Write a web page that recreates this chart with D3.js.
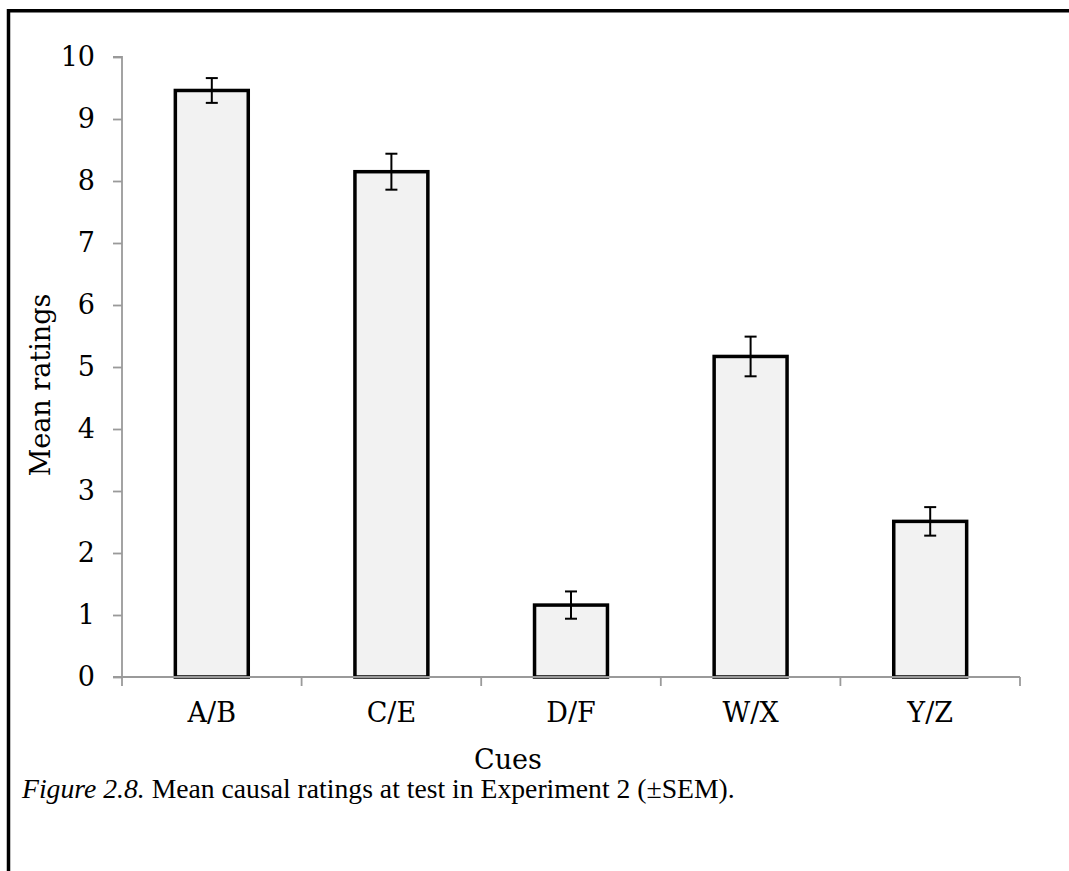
<!DOCTYPE html>
<html>
<head>
<meta charset="utf-8">
<script src="https://cdn.jsdelivr.net/npm/d3@7"></script>
<style>
	body { margin: 0; background: white; }
	svg { display: block; }
</style>
</head>
<body>
<script>

//****************************************************************************************************************************//
// Data

var cues = ["A/B", "C/E", "D/F", "W/X", "Y/Z"];
var meanRatings = [9.46, 8.15, 1.16, 5.17, 2.51];
var semRatings = [0.20, 0.29, 0.22, 0.32, 0.23];
var yTicks = [0, 1, 2, 3, 4, 5, 6, 7, 8, 9, 10];

//****************************************************************************************************************************//
// Canvas

var width = 1069, height = 871;
var plot = { left : 122, right : 1020, top : 57, bottom : 677 };
var serif = "'DejaVu Serif', serif";

var canvas = d3.select("body").append("svg")
				.attr("width", width)
				.attr("height", height);

canvas.append("path")
		.attr("d", "M8.5," + height + "V10.8H" + width)
		.attr("fill", "none")
		.attr("stroke", "black")
		.attr("stroke-width", 3.5);

var x = d3.scaleBand()
			.domain(cues)
			.range([plot.left, plot.right])
			.paddingInner(0.594)
			.paddingOuter(0.297);

var y = d3.scaleLinear()
			.domain([0, 10])
			.range([plot.bottom, plot.top]);

//****************************************************************************************************************************//
// Bars and error bars

var rows = cues.map(function(c, i){ return { cue : c, mean : meanRatings[i], sem : semRatings[i] }; });

canvas.selectAll(".bar")
		.data(rows)
		.enter().append("rect")
		.attr("class", "bar")
		.attr("x", function(d){ return x(d.cue); })
		.attr("y", function(d){ return y(d.mean); })
		.attr("width", x.bandwidth())
		.attr("height", function(d){ return y(0) - y(d.mean); })
		.attr("fill", "#f2f2f2")
		.attr("stroke", "black")
		.attr("stroke-width", 3.5);

var err = canvas.selectAll(".err")
				.data(rows)
				.enter().append("g")
				.attr("class", "err")
				.attr("stroke", "black")
				.attr("stroke-width", 2);

err.append("line")
	.attr("x1", function(d){ return x(d.cue) + x.bandwidth()/2; })
	.attr("x2", function(d){ return x(d.cue) + x.bandwidth()/2; })
	.attr("y1", function(d){ return y(d.mean + d.sem); })
	.attr("y2", function(d){ return y(d.mean - d.sem); });

[1, -1].forEach(function(s){
	err.append("line")
		.attr("x1", function(d){ return x(d.cue) + x.bandwidth()/2 - 6; })
		.attr("x2", function(d){ return x(d.cue) + x.bandwidth()/2 + 6; })
		.attr("y1", function(d){ return y(d.mean + s*d.sem); })
		.attr("y2", function(d){ return y(d.mean + s*d.sem); });
});

//****************************************************************************************************************************//
// Axes

var axisColor = "#9a9a9a";

var yAxis = canvas.append("g")
				.attr("transform", "translate(" + plot.left + ",0)")
				.call(d3.axisLeft(y).tickValues(yTicks).tickSize(9).tickPadding(18));

yAxis.selectAll("path, line").attr("stroke", axisColor).attr("stroke-width", 1.8);
yAxis.select(".domain").attr("d", "M-9," + y(10) + "H0V" + y(0));
yAxis.selectAll("text")
		.attr("fill", "black")
		.style("font-family", serif)
		.style("font-size", "27px");

var xAxis = canvas.append("g")
				.attr("transform", "translate(0," + plot.bottom + ")")
				.call(d3.axisBottom(x).tickSize(0).tickPadding(26));

xAxis.select(".domain").attr("d", "M" + (plot.left - 9) + ",0H" + plot.right)
		.attr("stroke", axisColor).attr("stroke-width", 1.8);
xAxis.selectAll("text")
		.attr("fill", "black")
		.style("font-family", serif)
		.style("font-size", "27px");

xAxis.selectAll(".sep")
		.data(d3.range(cues.length + 1))
		.enter().append("line")
		.attr("x1", function(i){ return plot.left + i*x.step(); })
		.attr("x2", function(i){ return plot.left + i*x.step(); })
		.attr("y1", 0)
		.attr("y2", 9)
		.attr("stroke", axisColor)
		.attr("stroke-width", 1.8);

//****************************************************************************************************************************//
// Titles

canvas.append("text")
		.attr("x", 508)
		.attr("y", 769)
		.attr("text-anchor", "middle")
		.style("font-family", serif)
		.style("font-size", "27px")
		.text("Cues");

canvas.append("text")
		.attr("transform", "translate(50,385) rotate(-90)")
		.attr("text-anchor", "middle")
		.style("font-family", serif)
		.style("font-size", "27px")
		.text("Mean ratings");

var caption = canvas.append("text")
					.attr("x", 22)
					.attr("y", 798)
					.style("font-family", "'Liberation Serif', serif")
					.style("font-size", "26px");

caption.append("tspan")
		.style("font-style", "italic")
		.text("Figure 2.8.");

caption.append("tspan")
		.text(" Mean causal ratings at test in Experiment 2 (\u00b1SEM).");

// fit caption to the width seen in the figure
var capLen = caption.node().getComputedTextLength();
caption.style("font-size", (26*713/capLen).toFixed(2) + "px");

</script>
</body>
</html>
